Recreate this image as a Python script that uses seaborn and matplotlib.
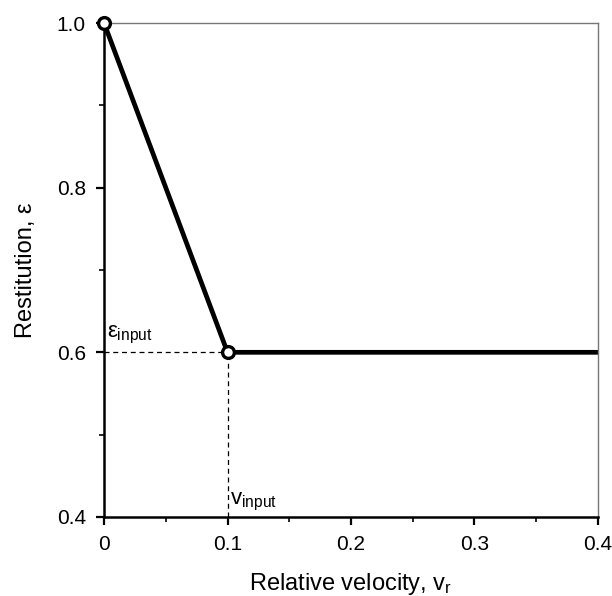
import matplotlib
matplotlib.use("Agg")
import matplotlib.pyplot as plt
import seaborn as sns
import pandas as pd
from matplotlib.ticker import MultipleLocator

sns.set_theme(style="white")
plt.rcParams["font.family"] = ["Liberation Sans", "DejaVu Sans"]
plt.rcParams["mathtext.fontset"] = "custom"
plt.rcParams["mathtext.rm"] = "Liberation Sans"
plt.rcParams["mathtext.it"] = "Liberation Sans"
plt.rcParams["text.color"] = "black"
plt.rcParams["axes.labelcolor"] = "black"

# restitution curve
vr = [0.0, 0.1, 0.4]
eps = [1.0, 0.6, 0.6]
# the two knots drawn as open circles
knot_v = [0.0, 0.1]
knot_e = [1.0, 0.6]
v_input = 0.1
eps_input = 0.6

x_ticks = [0, 0.1, 0.2, 0.3, 0.4]
x_labels = ["0", "0.1", "0.2", "0.3", "0.4"]
y_ticks = [0.4, 0.6, 0.8, 1.0]
y_labels = ["0.4", "0.6", "0.8", "1.0"]

df = pd.DataFrame({"vr": vr, "eps": eps})

fig = plt.figure(figsize=(6.12, 5.96), dpi=100)
ax = fig.add_axes([0.170, 0.1326, 0.807, 0.8288])

# dashed guides
ax.plot([0, v_input], [eps_input, eps_input], color="black", lw=0.9, ls=(0, (4, 3)))
ax.plot([v_input, v_input], [0.4, eps_input], color="black", lw=0.9, ls=(0, (4, 3)))

sns.lineplot(data=df, x="vr", y="eps", color="black", linewidth=3.4, ax=ax)
ax.plot(knot_v, knot_e, ls="none", marker="o", ms=8.5, mfc="white", mec="black",
        mew=2.4, clip_on=False, zorder=5)

ax.text(0.002, eps_input + 0.008, r"$\varepsilon_{\mathrm{input}}$", fontsize=16,
        ha="left", va="bottom")
ax.text(v_input + 0.002, 0.405, r"v$_{\mathrm{input}}$", fontsize=16,
        ha="left", va="bottom")

ax.set_xlim(0, 0.4)
ax.set_ylim(0.4, 1.0)
ax.set_xticks(x_ticks)
ax.set_xticklabels(x_labels)
ax.set_yticks(y_ticks)
ax.set_yticklabels(y_labels)
ax.xaxis.set_minor_locator(MultipleLocator(0.05))
ax.yaxis.set_minor_locator(MultipleLocator(0.1))
ax.tick_params(which="major", direction="out", length=6, width=1.6, labelsize=15,
               bottom=True, left=True, pad=7, colors="black")
ax.tick_params(which="minor", direction="out", length=3.5, width=1.4,
               bottom=True, left=True)

ax.set_xlabel(r"Relative velocity, v$_{\mathrm{r}}$", fontsize=17, labelpad=12)
ax.set_ylabel("Restitution, ε", fontsize=17, labelpad=14)

for s in ["left", "bottom"]:
    ax.spines[s].set_color("black")
    ax.spines[s].set_linewidth(1.8)
for s in ["top", "right"]:
    ax.spines[s].set_color("#777777")
    ax.spines[s].set_linewidth(1.0)

fig.savefig("out.png", dpi=100, facecolor="white")
